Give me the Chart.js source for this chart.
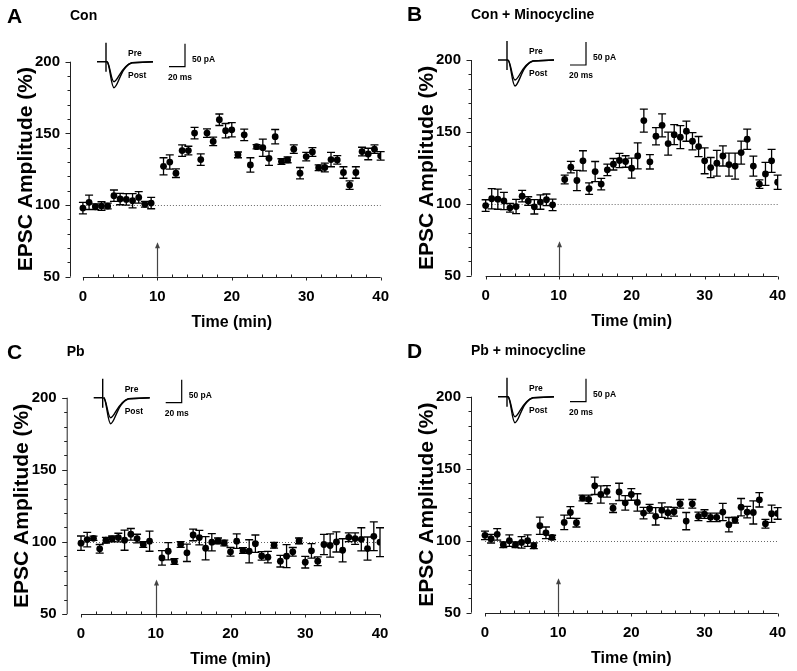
<!DOCTYPE html>
<html>
<head>
<meta charset="utf-8">
<script src="https://cdn.jsdelivr.net/npm/chart.js@4.4.1/dist/chart.umd.min.js"></script>
<style>
  html, body { margin: 0; padding: 0; background: #fff; }
  #wrap { position: relative; width: 797px; height: 671px; overflow: hidden; background: #fff; }
  #wrap canvas { position: absolute; }
</style>
</head>
<body>
<div id="wrap">
  <canvas id="panelA" width="400" height="336" style="left:0px;top:0px"></canvas>
  <canvas id="panelB" width="397" height="336" style="left:400px;top:0px"></canvas>
  <canvas id="panelC" width="400" height="335" style="left:0px;top:336px"></canvas>
  <canvas id="panelD" width="397" height="335" style="left:400px;top:336px"></canvas>
</div>
<script>
// time of each sweep (min), one every 50 s, no point at 10 min (stimulus)
const timeMin = [0, 0.83, 1.67, 2.5, 3.33, 4.17, 5, 5.83, 6.67, 7.5, 8.33, 9.17,
    10.83, 11.67, 12.5, 13.33, 14.17, 15, 15.83, 16.67, 17.5, 18.33, 19.17, 20,
    20.83, 21.67, 22.5, 23.33, 24.17, 25, 25.83, 26.67, 27.5, 28.33, 29.17, 30,
    30.83, 31.67, 32.5, 33.33, 34.17, 35, 35.83, 36.67, 37.5, 38.33, 39.17, 40];
const xTicks = [0, 10, 20, 30, 40];
const yTicks = [50, 100, 150, 200];

// A - Con
const conMean = [97.9, 101.9, 98.8, 99.3, 99.3, 106.5, 104.2, 103.9, 103.0, 105.3, 100.5, 101.4,
    127, 130, 122.2, 138, 138, 150.2, 131.7, 150.2, 144.4, 159.5, 151.9, 152.5,
    135, 149, 128, 140.7, 140, 132.6, 147.7, 130.3, 131.5, 139, 122.2, 133.8,
    137, 126, 126.2, 131.7, 131.5, 122.7, 113.9, 122.7, 137.3, 135.6, 139, 134.3];
const conSem = [4, 5, 2, 3, 2, 4, 4, 4, 5, 4, 2, 4,
    6, 5, 3, 4, 3, 4, 4, 3, 3, 4, 5, 5,
    2, 4, 5, 1.5, 6, 5, 5, 2, 2, 3, 4, 3,
    3, 2, 3, 5, 3, 4, 3, 4, 3, 4, 3, 3];

// B - Con + Minocycline
const conMinoMean = [98.8, 103.5, 103.2, 102, 97.2, 98.1, 105.3, 101.9, 97.9, 101.2, 102.8, 99.3,
    116.9, 125.5, 116.2, 129.9, 110.6, 122.4, 113.7, 123.6, 127.5, 130.1, 129.4, 124.8,
    133.3, 157.9, 129.2, 147, 154.6, 141.9, 148.1, 146.3, 150.5, 143.5, 139.8, 129.9,
    125.2, 128.2, 133.3, 127.3, 126.2, 135.6, 144.9, 126.2, 113.7, 120.8, 129.9, 115];
const conMinoSem = [4, 7, 7, 6, 3, 5, 4, 3, 5, 5, 4, 4,
    3, 4, 7, 7, 4, 7, 4, 4, 4, 5, 4, 7,
    9, 8, 5, 6, 8, 8, 7, 8, 7, 6, 7, 9,
    7, 9, 7, 8, 9, 8, 7, 7, 3, 8, 8, 5];

// C - Pb
const pbMean = [99.1, 101.6, 102.5, 95.2, 101.2, 102.1, 103, 101.2, 105.3, 102.3, 98.2, 100.5,
    88.9, 93.5, 86.4, 98.2, 92.4, 104.8, 103, 95.6, 99.8, 100.7, 99.3, 93.1,
    100.5, 94, 93.5, 98.8, 90.3, 89.4, 97.7, 86.6, 90.1, 93.1, 100.7, 85.9,
    93.8, 86.6, 98.2, 97.5, 100, 94.2, 103.2, 102.3, 101.8, 95.4, 103.9, 99.8];
const pbSem = [5, 5, 1.5, 3, 2, 2, 3, 7, 4, 3, 2, 7,
    5, 6, 2, 2, 6, 4, 5, 8, 6, 2, 2, 3,
    5, 2, 8, 6, 3, 4, 2, 4, 8, 3, 2, 4,
    5, 3, 7, 8, 7, 8, 3, 4, 8, 8, 10, 10];

// D - Pb + minocycline
const pbMinoMean = [103.7, 101.4, 104.4, 97.2, 100, 97.2, 98.8, 100, 96.5, 110.4, 105.5, 102.3,
    112.7, 119.6, 112.5, 129.6, 128.7, 138.1, 132.1, 134.2, 122.6, 133.9, 126.3, 132.1,
    126.6, 119.2, 122.2, 116.9, 121.2, 119.4, 120.1, 125.6, 113.6, 125.6, 116.9, 118.5,
    116.2, 116.2, 119.9, 111.1, 114.3, 123.3, 119.9, 119.6, 128.4, 111.8, 118.7, 118.9];
const pbMinoSem = [3, 3, 4, 2, 4, 2, 4, 4, 2, 6, 4, 1.5,
    5, 4, 3, 2, 3, 6, 6, 4, 3, 6, 5, 4,
    6, 4, 3, 6, 5, 4, 3, 3, 6, 3, 3, 3,
    3, 3, 6, 5, 2, 6, 4, 8, 5, 3, 6, 4];

const FONT = '"Liberation Sans", Arial, Helvetica, sans-serif';

// where each panel's plot box sits inside its canvas
const panels = [
    { id: 'panelA', letter: 'A', title: 'Con', mean: conMean, sem: conSem,
      axisX: 70, zeroX: 83, rightX: 383, topY: 61.7, bottomY: 276.7 },
    { id: 'panelB', letter: 'B', title: 'Con + Minocycline', mean: conMinoMean, sem: conMinoSem,
      axisX: 71, zeroX: 86, rightX: 385, topY: 60, bottomY: 275.7 },
    { id: 'panelC', letter: 'C', title: 'Pb', mean: pbMean, sem: pbSem,
      axisX: 66.7, zeroX: 81, rightX: 380, topY: 61.7, bottomY: 278 },
    { id: 'panelD', letter: 'D', title: 'Pb + minocycline', mean: pbMinoMean, sem: pbMinoSem,
      axisX: 71, zeroX: 85.3, rightX: 384.3, topY: 60.7, bottomY: 276.7 }
];

function makeDecor(panel) {
    return {
        id: 'decor',
        beforeDatasetsDraw(chart) {
            const ctx = chart.ctx;
            const xs = chart.scales.x;
            const ys = chart.scales.y;
            const y50 = ys.getPixelForValue(50);
            const y200 = ys.getPixelForValue(200);
            const x0 = xs.getPixelForValue(0);
            const x40 = xs.getPixelForValue(40);
            const axisX = chart.chartArea.left;

            ctx.save();
            ctx.strokeStyle = '#222';
            ctx.lineWidth = 1;

            // y axis with outward ticks every 10
            ctx.beginPath();
            ctx.moveTo(axisX + 0.5, y200);
            ctx.lineTo(axisX + 0.5, y50);
            for (let v = 50; v <= 200; v += 10) {
                const py = Math.round(ys.getPixelForValue(v)) + 0.5;
                const len = v % 50 === 0 ? 5 : 3;
                ctx.moveTo(axisX + 0.5, py);
                ctx.lineTo(axisX + 0.5 - len, py);
            }
            ctx.stroke();

            // x axis, minor ticks up every 2 min, major ticks down
            const ay = Math.round(y50) + 0.5;
            ctx.beginPath();
            ctx.moveTo(x0, ay);
            ctx.lineTo(x40, ay);
            for (let t = 0; t <= 40; t += 2) {
                const px = Math.round(xs.getPixelForValue(t)) + 0.5;
                if (t % 10 === 0) {
                    ctx.moveTo(px, ay);
                    ctx.lineTo(px, ay + 3);
                } else {
                    ctx.moveTo(px, ay);
                    ctx.lineTo(px, ay - 3);
                }
            }
            ctx.stroke();

            // dotted baseline at 100 %
            const y100 = Math.round(ys.getPixelForValue(100)) + 0.5;
            ctx.strokeStyle = '#666';
            ctx.setLineDash([1, 2]);
            ctx.beginPath();
            ctx.moveTo(x0, y100);
            ctx.lineTo(x40, y100);
            ctx.stroke();
            ctx.setLineDash([]);

            // stimulus arrow at 10 min
            const ax = Math.round(xs.getPixelForValue(10)) + 0.5;
            const tipY = ys.getPixelForValue(74);
            ctx.strokeStyle = '#444';
            ctx.fillStyle = '#444';
            ctx.lineWidth = 1.2;
            ctx.beginPath();
            ctx.moveTo(ax, y50);
            ctx.lineTo(ax, tipY + 4);
            ctx.stroke();
            ctx.beginPath();
            ctx.moveTo(ax, tipY);
            ctx.lineTo(ax - 2.5, tipY + 6);
            ctx.lineTo(ax + 2.5, tipY + 6);
            ctx.closePath();
            ctx.fill();

            // error bars (SEM)
            ctx.strokeStyle = '#000';
            ctx.lineWidth = 1.3;
            ctx.beginPath();
            timeMin.forEach((t, i) => {
                const px = xs.getPixelForValue(t);
                const hi = ys.getPixelForValue(panel.mean[i] + panel.sem[i]);
                const lo = ys.getPixelForValue(panel.mean[i] - panel.sem[i]);
                ctx.moveTo(px, hi);
                ctx.lineTo(px, lo);
                ctx.moveTo(px - 4, hi);
                ctx.lineTo(px + 4, hi);
                ctx.moveTo(px - 4, lo);
                ctx.lineTo(px + 4, lo);
            });
            ctx.stroke();
            ctx.restore();
        },
        afterDraw(chart) {
            const ctx = chart.ctx;
            const xs = chart.scales.x;
            const ys = chart.scales.y;
            const L = chart.chartArea.left;
            const T = ys.getPixelForValue(200);
            const B = ys.getPixelForValue(50);
            const midX = (xs.getPixelForValue(0) + xs.getPixelForValue(40)) / 2;

            ctx.save();
            ctx.fillStyle = '#000';

            // panel letter and condition
            ctx.textBaseline = 'alphabetic';
            ctx.textAlign = 'left';
            ctx.font = 'bold 21px ' + FONT;
            ctx.fillText(panel.letter, 7, T - 39);
            ctx.font = 'bold 14px ' + FONT;
            ctx.fillText(panel.title, L + 0, T - 41.5);

            // axis titles
            ctx.textAlign = 'center';
            ctx.textBaseline = 'middle';
            ctx.font = 'bold 16px ' + FONT;
            ctx.fillText('Time (min)', midX, B + 46);

            ctx.save();
            ctx.translate(L - 44, (T + B) / 2);
            ctx.rotate(-Math.PI / 2);
            ctx.font = 'bold 21px ' + FONT;
            ctx.fillText('EPSC Amplitude (%)', 0, 0);
            ctx.restore();

            // example traces inset (Pre / Post) with scale bar
            ctx.strokeStyle = '#000';
            ctx.lineWidth = 1.4;
            ctx.beginPath();
            ctx.moveTo(L + 27, T);
            ctx.lineTo(L + 37, T);
            ctx.moveTo(L + 36, T - 19);
            ctx.lineTo(L + 36, T + 10);
            ctx.stroke();
            [26, 20].forEach(depth => {
                ctx.beginPath();
                ctx.moveTo(L + 37, T);
                ctx.bezierCurveTo(L + 40, T + 2, L + 41, T + depth, L + 44, T + depth);
                ctx.bezierCurveTo(L + 48, T + depth, L + 51, T + 4, L + 62, T + 1);
                ctx.lineTo(L + 83, T);
                ctx.stroke();
            });
            ctx.lineWidth = 1.2;
            ctx.beginPath();
            ctx.moveTo(L + 115, T - 18);
            ctx.lineTo(L + 115, T + 5);
            ctx.lineTo(L + 99, T + 5);
            ctx.stroke();

            ctx.textAlign = 'left';
            ctx.font = 'bold 8.5px ' + FONT;
            ctx.fillText('Pre', L + 58, T - 8);
            ctx.fillText('Post', L + 58, T + 14);
            ctx.fillText('50 pA', L + 122, T - 2);
            ctx.fillText('20 ms', L + 98, T + 16);
            ctx.restore();
        }
    };
}

document.addEventListener('DOMContentLoaded', function() {
    panels.forEach(panel => {
        const canvas = document.getElementById(panel.id);
        const perMin = (panel.rightX - panel.zeroX) / 40;
        const xMin = -(panel.zeroX - panel.axisX) / perMin;

        new Chart(canvas.getContext('2d'), {
            type: 'scatter',
            data: {
                datasets: [{
                    data: timeMin.map((t, i) => ({ x: t, y: panel.mean[i] })),
                    pointRadius: 3.4,
                    pointBackgroundColor: '#000',
                    pointBorderColor: '#000',
                    pointBorderWidth: 0,
                    showLine: false
                }]
            },
            options: {
                responsive: false,
                animation: false,
                devicePixelRatio: 1,
                layout: {
                    padding: { left: 0, top: panel.topY, right: canvas.width - panel.rightX, bottom: 0 }
                },
                plugins: {
                    legend: { display: false },
                    tooltip: { enabled: false }
                },
                scales: {
                    x: {
                        type: 'linear',
                        min: xMin,
                        max: 40,
                        grid: { display: false, drawTicks: false },
                        border: { display: false },
                        ticks: { color: '#000', padding: 11, font: { family: FONT, size: 15, weight: 'bold' } },
                        afterBuildTicks: scale => { scale.ticks = xTicks.map(v => ({ value: v })); },
                        afterFit: scale => { scale.height = canvas.height - panel.bottomY; }
                    },
                    y: {
                        min: 50,
                        max: 200,
                        grid: { display: false, drawTicks: false },
                        border: { display: false },
                        ticks: { color: '#000', padding: 10, font: { family: FONT, size: 15, weight: 'bold' } },
                        afterBuildTicks: scale => { scale.ticks = yTicks.map(v => ({ value: v })); },
                        afterFit: scale => { scale.width = panel.axisX; }
                    }
                }
            },
            plugins: [makeDecor(panel)]
        });
    });
});
</script>
</body>
</html>
